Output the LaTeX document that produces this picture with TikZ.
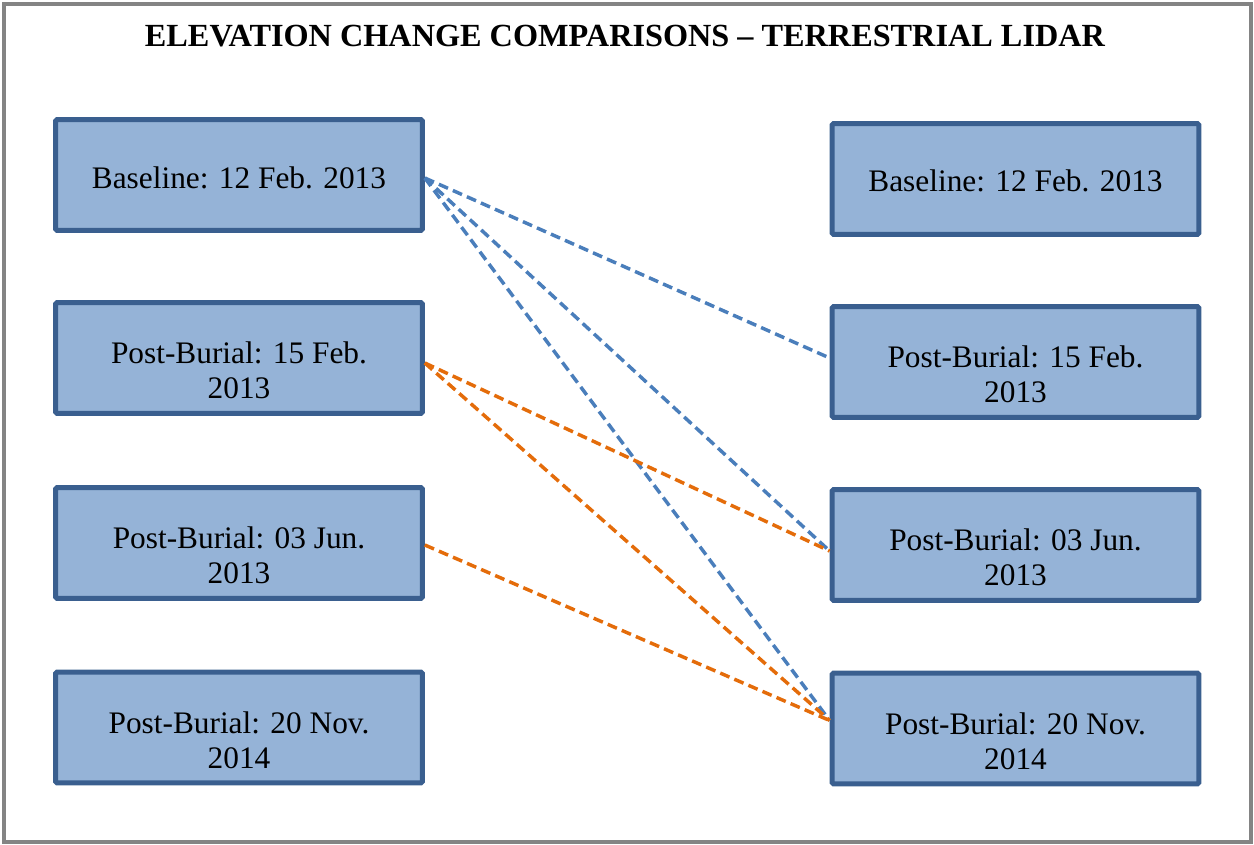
\documentclass[tikz,border=0pt]{standalone}
\usepackage{fontspec}
\setmainfont{Liberation Serif}
\usetikzlibrary{calc}
\definecolor{boxfill}{HTML}{95B3D7}
\definecolor{boxline}{HTML}{3A5F8F}
\definecolor{linkblue}{HTML}{4A7EBB}
\definecolor{linkorange}{HTML}{E46C0A}
\definecolor{frame}{HTML}{848484}
\tikzset{
  datebox/.style={draw=boxline, fill=boxfill, line width=3.75pt, rounded corners=1pt,
    minimum width=275pt, minimum height=83pt, inner sep=0pt},
  datetext/.style={font=\fontsize{23.5}{26.5}\selectfont, align=center, inner sep=0pt},
  bluelink/.style={draw=linkblue, line width=2.6pt, dash pattern=on 7.5pt off 4pt},
  orangelink/.style={draw=linkorange, line width=2.6pt, dash pattern=on 7.5pt off 4pt},
}
\begin{document}
\begin{tikzpicture}[x=0.75pt, y=-0.75pt]
  \useasboundingbox (0,0) rectangle (1254,844);
  % outer frame
  \draw[frame, line width=3pt] (3.5,3.5) rectangle (1251,842);
  % title
  \node[anchor=base, inner sep=0pt, font=\fontsize{24.2}{27}\selectfont\bfseries] (title) at (625,46)
    {ELEVATION CHANGE COMPARISONS -- TERRESTRIAL LIDAR};

  % left column of surveys
  \node[datebox] (l1) at (239,175) {};
  \node[datebox] (l2) at (239,358) {};
  \node[datebox] (l3) at (239,543) {};
  \node[datebox] (l4) at (239,727.5) {};
  % right column of surveys
  \node[datebox] (r1) at (1015.5,179) {};
  \node[datebox] (r2) at (1015.5,362) {};
  \node[datebox] (r3) at (1015.5,545) {};
  \node[datebox] (r4) at (1015.5,728.5) {};

  % labels
  \node[datetext, anchor=base] (l1t) at ($(l1.center)+(0,13)$) {Baseline: 12 Feb. 2013};
  \node[datetext] (l2t) at ($(l2.center)+(0,12.5)$) {Post-Burial: 15 Feb.\\2013};
  \node[datetext] (l3t) at ($(l3.center)+(0,12.5)$) {Post-Burial: 03 Jun.\\2013};
  \node[datetext] (l4t) at ($(l4.center)+(0,12.5)$) {Post-Burial: 20 Nov.\\2014};
  \node[datetext, anchor=base] (r1t) at ($(r1.center)+(0,12)$) {Baseline: 12 Feb. 2013};
  \node[datetext] (r2t) at ($(r2.center)+(0,12.5)$) {Post-Burial: 15 Feb.\\2013};
  \node[datetext] (r3t) at ($(r3.center)+(0,12.5)$) {Post-Burial: 03 Jun.\\2013};
  \node[datetext] (r4t) at ($(r4.center)+(0,12.5)$) {Post-Burial: 20 Nov.\\2014};

  % comparisons against the baseline
  \draw[bluelink] ($(l1.east)+(0,3)$) -- ($(r2.west)+(0,-4)$);
  \draw[bluelink] ($(l1.east)+(0,3)$) -- ($(r3.west)+(0,6)$);
  \draw[bluelink] ($(l1.east)+(0,3)$) -- ($(r4.west)+(0,-8)$);
  % comparisons between post-burial surveys
  \draw[orangelink] ($(l2.east)+(0,5)$) -- ($(r3.west)+(0,6)$);
  \draw[orangelink] ($(l2.east)+(0,5)$) -- ($(r4.west)+(0,-8)$);
  \draw[orangelink] ($(l3.east)+(0,2)$) -- ($(r4.west)+(0,-8)$);
\end{tikzpicture}
\end{document}
